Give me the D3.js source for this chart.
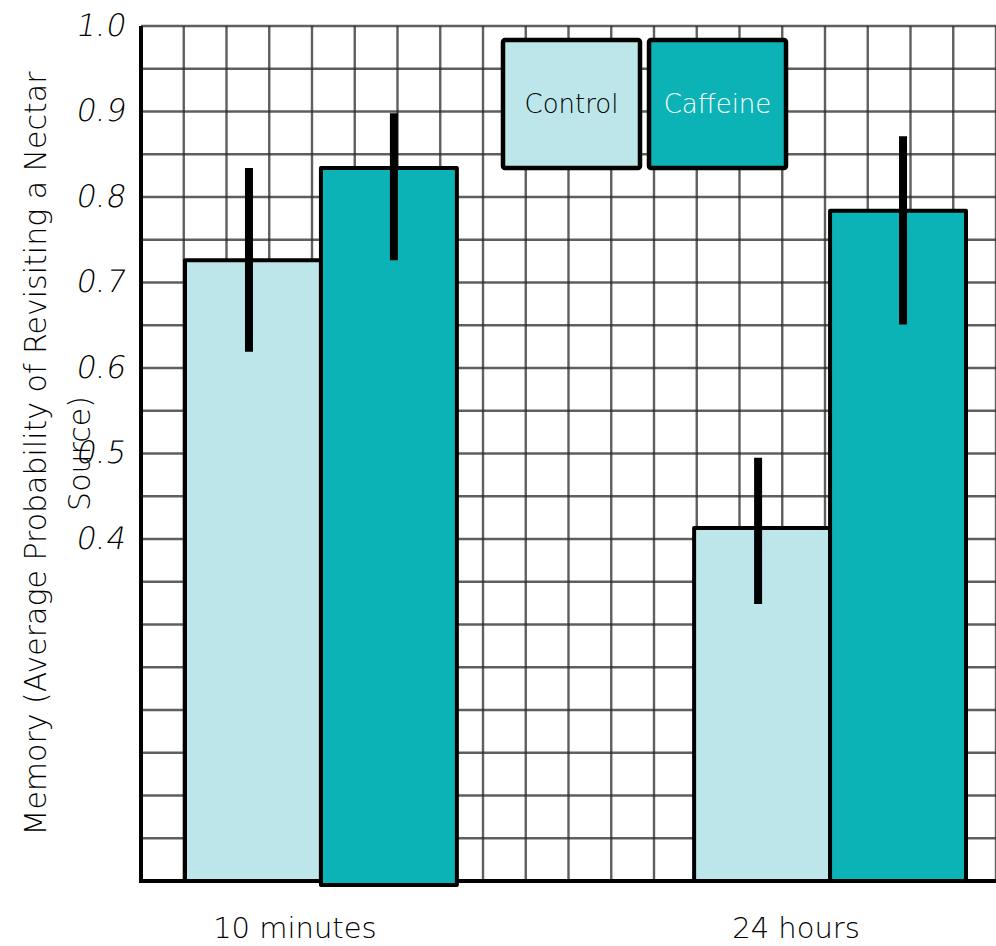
<!DOCTYPE html>
<html>
<head>
<meta charset="utf-8">
<script src="https://cdn.jsdelivr.net/npm/d3@7"></script>
<style>
  html, body { margin: 0; padding: 0; background: #fff; }
  svg { display: block; }
  text { font-family: "DejaVu Sans", "Lato", sans-serif; font-weight: 200; fill: #000; }
</style>
</head>
<body>
<svg id="chart" width="996" height="946"></svg>
<script>
// Memory retention of bees: mean probability of revisiting a nectar source
const groups = ["10 minutes", "24 hours"];
const treatments = ["Control", "Caffeine"];
const controlMean = [0.726, 0.413];
const controlLow  = [0.619, 0.324];
const controlHigh = [0.834, 0.495];
const caffeineMean = [0.834, 0.784];
const caffeineLow  = [0.726, 0.651];
const caffeineHigh = [0.898, 0.871];
const yTickValues = [0.4, 0.5, 0.6, 0.7, 0.8, 0.9, 1.0];
const yTickLabels = ["0.4", "0.5", "0.6", "0.7", "0.8", "0.9", "1.0"];
const colors = { Control: "#bce6e9", Caffeine: "#0bb3b6" };

const rows = [];
groups.forEach((g, i) => {
  rows.push({ group: g, treatment: "Control", mean: controlMean[i], lo: controlLow[i], hi: controlHigh[i] });
  rows.push({ group: g, treatment: "Caffeine", mean: caffeineMean[i], lo: caffeineLow[i], hi: caffeineHigh[i] });
});

const svg = d3.select("#chart");
const plot = { left: 141, right: 996, top: 26, bottom: 881 };

const y = d3.scaleLinear().domain([0, 1]).range([plot.bottom, plot.top]);
const x0 = d3.scaleBand().domain(groups).range([185, 966]).paddingInner(0.466).paddingOuter(0);
const x1 = d3.scaleBand().domain(treatments).range([0, x0.bandwidth()]).padding(0);

// Graph-paper grid: 20 x 20 cells
const gridY = d3.range(0, 1.0001, 0.05);
const gx = d3.scaleLinear().domain([0, 20]).range([plot.left, plot.right]);
const grid = svg.append("g").attr("stroke", "#2a2a2a").attr("stroke-opacity", 0.75).attr("stroke-width", 2.4);
grid.selectAll("line.h").data(gridY).join("line")
  .attr("x1", plot.left).attr("x2", plot.right)
  .attr("y1", d => y(d)).attr("y2", d => y(d));
grid.selectAll("line.v").data(d3.range(1, 21)).join("line")
  .attr("y1", plot.top).attr("y2", plot.bottom)
  .attr("x1", d => gx(d)).attr("x2", d => gx(d));

// Axes lines
svg.append("line").attr("x1", plot.left).attr("x2", plot.left)
  .attr("y1", plot.top).attr("y2", plot.bottom + 2)
  .attr("stroke", "#000").attr("stroke-width", 4);
svg.append("line").attr("x1", plot.left).attr("x2", plot.right)
  .attr("y1", plot.bottom).attr("y2", plot.bottom)
  .attr("stroke", "#000").attr("stroke-width", 4);

// Bars
const bars = svg.append("g");
bars.selectAll("rect").data(rows).join("rect")
  .attr("x", d => x0(d.group) + x1(d.treatment))
  .attr("width", x1.bandwidth())
  .attr("y", d => y(d.mean))
  .attr("height", d => y(0) - y(d.mean) + (d.treatment === "Caffeine" && d.group === groups[0] ? 4 : 0))
  .attr("fill", d => colors[d.treatment])
  .attr("stroke", "#000").attr("stroke-width", 4).attr("stroke-linejoin", "round");

// Error bars
svg.append("g").selectAll("line").data(rows).join("line")
  .attr("x1", d => x0(d.group) + x1(d.treatment) + x1.bandwidth() / 2 + (d.treatment === "Control" ? -4 : 5))
  .attr("x2", d => x0(d.group) + x1(d.treatment) + x1.bandwidth() / 2 + (d.treatment === "Control" ? -4 : 5))
  .attr("y1", d => y(d.lo)).attr("y2", d => y(d.hi))
  .attr("stroke", "#000").attr("stroke-width", 8);

// Y tick labels (slanted)
svg.append("g").selectAll("text").data(yTickValues).join("text")
  .attr("transform", d => `translate(126, ${y(d) + 1}) skewX(-10)`)
  .attr("text-anchor", "end").attr("dominant-baseline", "middle")
  .attr("font-size", 31)
  .text((d, i) => yTickLabels[i]);

// X category labels
const labelShift = [-26, -34];
svg.append("g").selectAll("text").data(groups).join("text")
  .attr("x", (d, i) => x0(d) + x0.bandwidth() / 2 + labelShift[i]).attr("y", 930)
  .attr("text-anchor", "middle").attr("dominant-baseline", "middle")
  .attr("font-size", 29)
  .text(d => d);

// Y axis title (two lines)
const yTitle = svg.append("text")
  .attr("transform", `translate(0, ${(plot.top + plot.bottom) / 2}) rotate(-90)`)
  .attr("text-anchor", "middle").attr("font-size", 30);
yTitle.append("tspan").attr("x", 0).attr("y", 46).text("Memory (Average Probability of Revisiting a Nectar");
yTitle.append("tspan").attr("x", 0).attr("y", 90).text("Source)");

// Legend boxes
const legend = svg.append("g");
const legendX = [503, 649];
treatments.forEach((t, i) => {
  const g = legend.append("g").attr("transform", `translate(${legendX[i]}, 40)`);
  g.append("rect").attr("width", 137).attr("height", 128).attr("rx", 2)
    .attr("fill", colors[t]).attr("stroke", "#000").attr("stroke-width", 4.5);
  g.append("text").attr("x", 68.5).attr("y", 65)
    .attr("text-anchor", "middle").attr("dominant-baseline", "middle")
    .attr("font-size", 26)
    .style("fill", t === "Caffeine" ? "#fff" : "#000")
    .text(t);
});
</script>
</body>
</html>
